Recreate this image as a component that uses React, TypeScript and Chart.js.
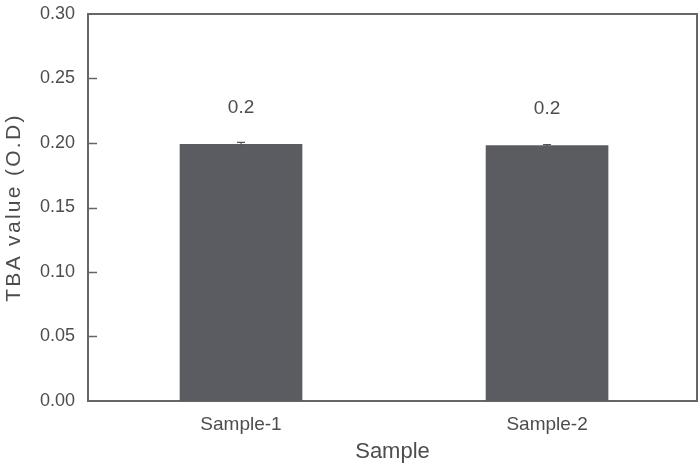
import React, { useEffect, useRef } from 'react';
import { Chart, registerables } from 'chart.js';

Chart.register(...registerables);

// ---- data ----
const categories = ['Sample-1', 'Sample-2'];
const positions = [1, 2];
const tbaValues = [0.199, 0.198];
const tbaErrors = [0.0015, 0.0008];
const valueLabels = ['0.2', '0.2'];
const yTicks = [0, 0.05, 0.1, 0.15, 0.2, 0.25, 0.3];
const xTitle = 'Sample';
const yTitle = 'TBA value (O.D)';

// ---- style ----
const FONT = '"Liberation Sans", Arial, Helvetica, sans-serif';
const AXIS = '#666666';
const TEXT = '#4d4d4d';
const BAR = '#5b5c62';

const framePlugin = {
  id: 'frame',
  afterDraw(chart: any) {
    const { ctx, chartArea } = chart;
    ctx.save();
    ctx.strokeStyle = AXIS;
    ctx.lineWidth = 2;
    ctx.beginPath();
    ctx.moveTo(chartArea.left, chartArea.top);
    ctx.lineTo(chartArea.right, chartArea.top);
    ctx.lineTo(chartArea.right, chartArea.bottom);
    ctx.stroke();
    // inward tick marks on the y axis
    const y = chart.scales.y;
    ctx.lineWidth = 1.5;
    yTicks.slice(1, -1).forEach((v) => {
      const py = Math.round(y.getPixelForValue(v)) + 0.5;
      ctx.beginPath();
      ctx.moveTo(chartArea.left, py);
      ctx.lineTo(chartArea.left + 9, py);
      ctx.stroke();
    });
    ctx.restore();
  },
};

const errorAndLabelPlugin = {
  id: 'errorAndLabel',
  afterDatasetsDraw(chart: any) {
    const { ctx } = chart;
    const xs = chart.scales.x;
    const ys = chart.scales.y;
    ctx.save();
    positions.forEach((p, i) => {
      const px = xs.getPixelForValue(p);
      const top = ys.getPixelForValue(tbaValues[i] + tbaErrors[i]);
      const bot = ys.getPixelForValue(tbaValues[i] - tbaErrors[i]);
      ctx.strokeStyle = '#555555';
      ctx.lineWidth = 1.2;
      ctx.beginPath();
      ctx.moveTo(px, bot);
      ctx.lineTo(px, top);
      ctx.moveTo(px - 4, top);
      ctx.lineTo(px + 4, top);
      ctx.stroke();
      ctx.fillStyle = TEXT;
      ctx.font = `19px ${FONT}`;
      ctx.textAlign = 'center';
      ctx.textBaseline = 'middle';
      ctx.fillText(valueLabels[i], px, ys.getPixelForValue(tbaValues[i]) - 37);
    });
    ctx.restore();
  },
};

const spacedTitlePlugin = {
  id: 'spacedTitle',
  afterLayout(chart: any) {
    const s: any = chart.scales.y;
    if (!s || s.__wrapped) return;
    const orig = s.drawTitle.bind(s);
    s.drawTitle = function (...args: any[]) {
      const ctx: any = chart.ctx;
      ctx.save();
      ctx.letterSpacing = '2.3px';
      orig(...args);
      ctx.restore();
    };
    s.__wrapped = true;
  },
};

export default function App() {
  const ref = useRef<HTMLCanvasElement | null>(null);

  useEffect(() => {
    if (!ref.current) return;
    const chart = new Chart(ref.current, {
      type: 'bar',
      data: {
        datasets: [
          {
            label: 'TBA value',
            data: positions.map((p, i) => ({ x: p, y: tbaValues[i] })),
            backgroundColor: BAR,
            borderWidth: 0,
            barThickness: 122,
          },
        ],
      },
      options: {
        responsive: false,
        animation: false,
        layout: { padding: { left: 2, top: 14, right: 1, bottom: 0 } },
        plugins: {
          legend: { display: false },
          tooltip: { enabled: false },
        },
        scales: {
          x: {
            type: 'linear',
            offset: false,
            bounds: 'ticks',
            min: 0.5,
            max: 2.49,
            afterBuildTicks: (scale: any) => {
              scale.ticks = positions.map((v) => ({ value: v }));
            },
            afterFit: (scale: any) => {
              scale.height = 64;
              scale.paddingLeft = 0;
              scale.paddingRight = 0;
            },
            grid: { display: false, drawTicks: false, offset: false },
            border: { display: true, color: AXIS, width: 2 },
            ticks: {
              autoSkip: false,
              maxRotation: 0,
              padding: 12,
              color: TEXT,
              font: { family: FONT, size: 19 },
              callback: (v: any) => {
                const idx = positions.indexOf(Number(v));
                return idx >= 0 ? categories[idx] : '';
              },
            },
            title: {
              display: true,
              text: xTitle,
              color: TEXT,
              padding: 0,
              font: { family: FONT, size: 22 },
            },
          },
          y: {
            min: 0,
            max: 0.3,
            afterBuildTicks: (scale: any) => {
              scale.ticks = yTicks.map((v) => ({ value: v }));
            },
            afterFit: (scale: any) => {
              scale.width = 86;
              scale.paddingTop = 0;
              scale.paddingBottom = 0;
            },
            grid: { display: false, drawTicks: false },
            border: { display: true, color: AXIS, width: 2 },
            ticks: {
              padding: 13,
              color: TEXT,
              font: { family: FONT, size: 18 },
              callback: (v: any) => Number(v).toFixed(2),
            },
            title: {
              display: true,
              text: yTitle,
              color: TEXT,
              padding: 0,
              font: { family: FONT, size: 21 },
            },
          },
        },
      },
      plugins: [framePlugin, errorAndLabelPlugin, spacedTitlePlugin],
    } as any);
    return () => chart.destroy();
  }, []);

  return (
    <div style={{ position: 'absolute', left: 0, top: 0, width: 698, height: 465, background: '#ffffff' }}>
      <canvas ref={ref} width={698} height={465} />
    </div>
  );
}
